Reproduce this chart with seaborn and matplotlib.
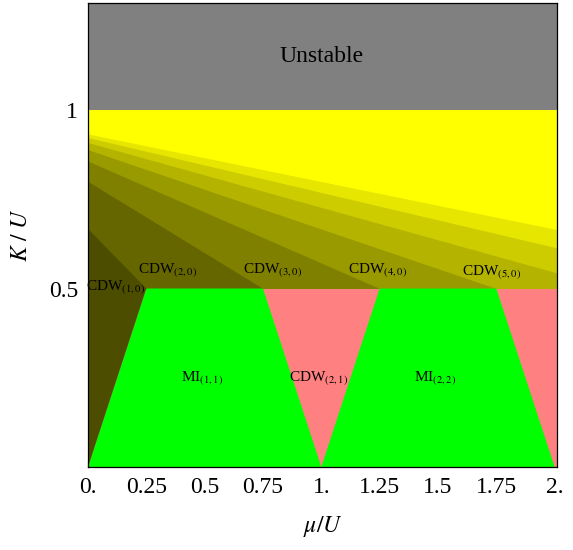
import numpy as np
import matplotlib
matplotlib.use('Agg')
import matplotlib.pyplot as plt
import seaborn as sns

# CDW boundaries in the K/U > 0.5 part: value at mu=0 and mu where K/U hits 0.5
CDW_K0 = [0.667, 0.800, 0.857, 0.889, 0.909, 0.923, 0.933]
CDW_MU_HALF = [0.25, 0.75, 1.25, 1.75, 2.25, 2.75, 3.25]
# darkness of the yellow bands, lowest band first
SHADES = [0.3, 0.4, 0.5, 0.6, 0.7, 0.8, 0.9, 1.0]

# Mott insulator lobes (trapezoids below K/U = 0.5)
MI_BOTTOM = [(0.0, 1.0), (1.0, 2.0)]
MI_TOP = [(0.25, 0.75), (1.25, 1.75)]

K_MI = 0.5        # top of the MI / CDW(n,n-1) region
K_UNSTABLE = 1.0  # above this: unstable

# labels: text, mu, K
LABELS = [
    ('CDW$_{(1,0)}$', 0.12, 0.505),
    ('CDW$_{(2,0)}$', 0.34, 0.552),
    ('CDW$_{(3,0)}$', 0.79, 0.552),
    ('CDW$_{(4,0)}$', 1.24, 0.552),
    ('CDW$_{(5,0)}$', 1.73, 0.546),
    ('MI$_{(1,1)}$', 0.49, 0.25),
    ('CDW$_{(2,1)}$', 0.99, 0.25),
    ('MI$_{(2,2)}$', 1.49, 0.25),
]

X_TICKS = [0, 0.25, 0.5, 0.75, 1.0, 1.25, 1.5, 1.75, 2.0]
X_TICKLABELS = ['0.', '0.25', '0.5', '0.75', '1.', '1.25', '1.5', '1.75', '2.']
Y_TICKS = [0.5, 1.0]
Y_TICKLABELS = ['0.5', '1']

XMAX = 2.01
YMAX = 1.3

sns.set_theme(style='ticks')
plt.rcParams['font.family'] = ['Liberation Serif', 'DejaVu Serif']
plt.rcParams['mathtext.fontset'] = 'stix'
plt.rcParams['text.color'] = 'black'
plt.rcParams['axes.labelcolor'] = 'black'
plt.rcParams['xtick.color'] = 'black'
plt.rcParams['ytick.color'] = 'black'

fig = plt.figure(figsize=(5.73, 5.50), dpi=100)
ax = fig.add_axes([0.1536, 0.151, 0.8184, 0.8435])

yellow = lambda s: (s, s, 0.0)

# unstable region
ax.fill_between([0, XMAX], K_UNSTABLE, YMAX, color=(0.5, 0.5, 0.5), lw=0)
# CDW(n,0) bands
ax.fill_between([0, XMAX], K_MI, K_UNSTABLE, color=yellow(SHADES[-1]), lw=0)
mu = np.linspace(0, XMAX, 400)
for k0, mh, s in reversed(list(zip(CDW_K0, CDW_MU_HALF, SHADES[:-1]))):
    line = k0 - (k0 - K_MI) * mu / mh
    ax.fill_between(mu, K_MI, np.maximum(line, K_MI), color=yellow(s), lw=0)

# lower region: CDW(n,n-1) background, MI lobes, CDW(1,0) corner
ax.fill_between([0, XMAX], 0, K_MI, color=(1.0, 0.5, 0.5), lw=0)
for (b0, b1), (t0, t1) in zip(MI_BOTTOM, MI_TOP):
    ax.fill([b0, b1, t1, t0], [0, 0, K_MI, K_MI], color=(0, 1, 0), lw=0)
ax.fill([0, MI_TOP[0][0], 0], [0, K_MI, K_MI], color=yellow(SHADES[0]), lw=0)

for txt, x, y in LABELS:
    ax.text(x, y, txt, ha='center', va='center', fontsize=11, color='black')
ax.text(1.0, 1.15, 'Unstable', ha='center', va='center', fontsize=17, color='black')

ax.set_xlim(0, XMAX)
ax.set_ylim(0, YMAX)
ax.set_xticks(X_TICKS)
ax.set_xticklabels(X_TICKLABELS)
ax.set_yticks(Y_TICKS)
ax.set_yticklabels(Y_TICKLABELS)
ax.tick_params(direction='in', length=4, width=0.8, labelsize=17, pad=7,
               color='black', labelcolor='black')
ax.set_xlabel(r'$\mu/U$', fontsize=17, labelpad=12)
ax.set_ylabel(r'$K\ /\ U$', fontsize=17, labelpad=12)
for sp in ax.spines.values():
    sp.set_color('black')
    sp.set_linewidth(0.9)
    sp.set_zorder(5)

fig.savefig('out.png', dpi=100)
